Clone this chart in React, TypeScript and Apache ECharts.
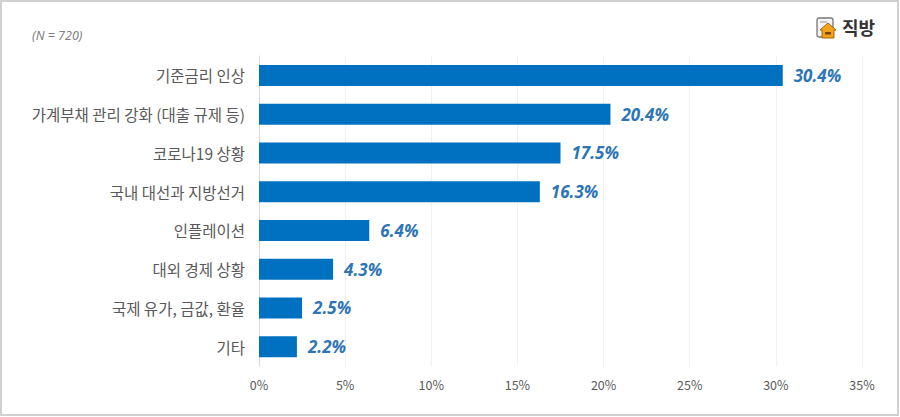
import React, { useEffect, useRef } from "react";
import * as echarts from "echarts";

const categories = [
  "기준금리 인상",
  "가계부채 관리 강화 (대출 규제 등)",
  "코로나19 상황",
  "국내 대선과 지방선거",
  "인플레이션",
  "대외 경제 상황",
  "국제 유가, 금값, 환율",
  "기타",
];
const values = [30.4, 20.4, 17.5, 16.3, 6.4, 4.3, 2.5, 2.2];
const noteText = "(N = 720)";
const brandText = "직방";

export default function App() {
  const ref = useRef<HTMLDivElement>(null);
  useEffect(() => {
    if (!ref.current) return;
    const chart = echarts.init(ref.current, null, { renderer: "svg" });
    const kr = "'Noto Sans CJK KR', 'Noto Sans', sans-serif";
    chart.setOption({
      animation: false,
      backgroundColor: "#ffffff",
      grid: { left: 259, right: 38, top: 56, bottom: 51, containLabel: false },
      xAxis: {
        type: "value",
        min: 0,
        max: 35,
        interval: 5,
        axisLine: { show: false },
        axisTick: { show: false },
        splitLine: { show: true, lineStyle: { color: "#f0f0f0", width: 1 } },
        axisLabel: {
          formatter: "{value}%",
          color: "#595959",
          fontSize: 12.5,
          fontFamily: kr,
          margin: 12,
        },
      },
      yAxis: {
        type: "category",
        data: categories,
        inverse: true,
        axisLine: { show: true, lineStyle: { color: "#d9d9d9" } },
        axisTick: { show: false },
        axisLabel: {
          color: "#595959",
          fontSize: 15.5,
          fontFamily: kr,
          margin: 14,
        },
      },
      series: [
        {
          type: "bar",
          data: values,
          barWidth: 21,
          itemStyle: { color: "#0070C0" },
          label: {
            show: true,
            position: "right",
            distance: 11,
            formatter: "{c}%",
            color: "#2E75B6",
            fontSize: 17,
            fontWeight: "bold",
            fontStyle: "italic",
            fontFamily: "'Noto Sans', sans-serif",
          },
        },
      ],
      graphic: [
        {
          type: "rect",
          shape: { x: 1, y: 1, width: 897, height: 414 },
          style: { fill: "none", stroke: "#d0d0d0", lineWidth: 2 },
          silent: true,
        },
        {
          type: "text",
          x: 32,
          y: 29,
          style: {
            text: noteText,
            fill: "#7f7f7f",
            fontSize: 12.5,
            fontStyle: "italic",
            fontFamily: "'Noto Sans', sans-serif",
          },
        },
        {
          type: "group",
          x: 817,
          y: 18,
          children: [
            {
              type: "rect",
              shape: { x: 0, y: 0, width: 16, height: 19, r: 2 },
              style: { fill: "#f4f4f4", stroke: "#777", lineWidth: 1.3 },
            },
            {
              type: "line",
              shape: { x1: 3, y1: 4, x2: 10, y2: 4 },
              style: { stroke: "#999", lineWidth: 1 },
            },
            {
              type: "polygon",
              shape: { points: [[3, 12], [11, 5], [19, 12], [17, 12], [17, 20], [5, 20], [5, 12]] },
              style: { fill: "#F5A21B", stroke: "#9a5a00", lineWidth: 0.9 },
            },
            {
              type: "rect",
              shape: { x: 8, y: 14, width: 6, height: 2.5 },
              style: { fill: "#7a4300" },
            },
          ],
        },
        {
          type: "text",
          x: 842,
          y: 18,
          style: {
            text: brandText,
            fill: "#333333",
            fontSize: 18,
            fontWeight: "bold",
            fontFamily: kr,
          },
        },
      ],
    });
    return () => chart.dispose();
  }, []);
  return (
    <div
      ref={ref}
      style={{ position: "fixed", left: 0, top: 0, width: 900, height: 417 }}
    />
  );
}
